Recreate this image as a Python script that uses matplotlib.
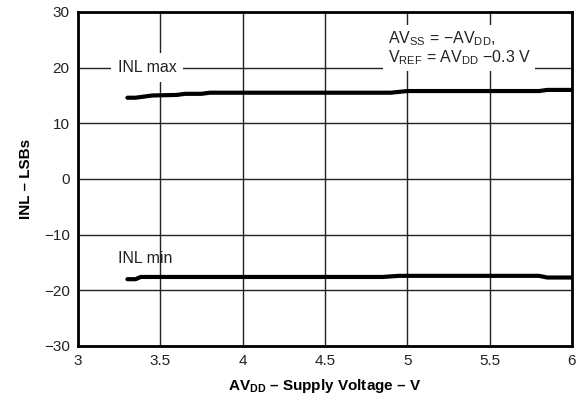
import matplotlib
matplotlib.use("Agg")
from matplotlib import pyplot as plt

plt.rcParams['font.family'] = ['Liberation Sans', 'DejaVu Sans']
plt.rcParams['mathtext.fontset'] = 'custom'
plt.rcParams['mathtext.rm'] = 'Liberation Sans'
plt.rcParams['mathtext.bf'] = 'Liberation Sans:bold'

# supply voltage (V) and INL (LSBs)
vdd_max = [3.3, 3.35, 3.4, 3.45, 3.6, 3.65, 3.75, 3.8, 4.0, 4.5, 4.9, 5.0, 5.5, 5.8, 5.85, 6.0]
inl_max = [14.6, 14.6, 14.8, 15.0, 15.1, 15.3, 15.3, 15.5, 15.5, 15.5, 15.5, 15.8, 15.8, 15.8, 16.0, 16.0]
vdd_min = [3.3, 3.35, 3.38, 3.5, 4.0, 4.5, 4.85, 4.95, 5.5, 5.8, 5.85, 6.0]
inl_min = [-18.0, -18.0, -17.6, -17.6, -17.6, -17.6, -17.6, -17.4, -17.4, -17.4, -17.7, -17.7]

xticks = [3, 3.5, 4, 4.5, 5, 5.5, 6]
xticklabels = ['3', '3.5', '4', '4.5', '5', '5.5', '6']
yticks = [-30, -20, -10, 0, 10, 20, 30]
yticklabels = ['\u221230', '\u221220', '\u221210', '0', '10', '20', '30']

fig = plt.figure(figsize=(5.87, 3.97), dpi=100)
ax = fig.add_axes([0.1329, 0.1285, 0.8415, 0.8413])

ax.plot(vdd_max, inl_max, color='black', lw=3, solid_capstyle='round', zorder=3)
ax.plot(vdd_min, inl_min, color='black', lw=3, solid_capstyle='round', zorder=3)

ax.set_xlim(3, 6)
ax.set_ylim(-30, 30)
ax.set_xticks(xticks)
ax.set_xticklabels(xticklabels)
ax.set_yticks(yticks)
ax.set_yticklabels(yticklabels)
ax.tick_params(length=0, labelsize=11, pad=6, labelcolor='#222222')
ax.grid(True, color='#222222', lw=1)
ax.set_axisbelow(True)
for s in ax.spines.values():
    s.set_linewidth(2)

ax.text(3.24, 20, 'INL max', fontsize=11.5, va='center', ha='left', color='#222222',
        bbox=dict(facecolor='white', edgecolor='none', pad=5), zorder=2)
ax.text(3.24, -14.3, 'INL min', fontsize=11.5, va='center', ha='left', color='#222222')
ax.text(4.88, 23.5, 'AV$_{\\mathrm{SS}}$ = \u2212AV$_{\\mathrm{DD}}$,\nV$_{\\mathrm{REF}}$ = AV$_{\\mathrm{DD}}$ \u22120.3 V',
        fontsize=11.5, va='center', ha='left', linespacing=1.05, color='#222222',
        bbox=dict(facecolor='white', edgecolor='none', pad=3), zorder=2)

ax.set_xlabel('AV$_{\\mathbf{DD}}$ \u2013 Supply Voltage \u2013 V', fontsize=11, fontweight='bold', labelpad=6)
ax.set_ylabel('INL \u2013 LSBs', fontsize=11, fontweight='bold', labelpad=8)

fig.savefig('out.png', dpi=100)
